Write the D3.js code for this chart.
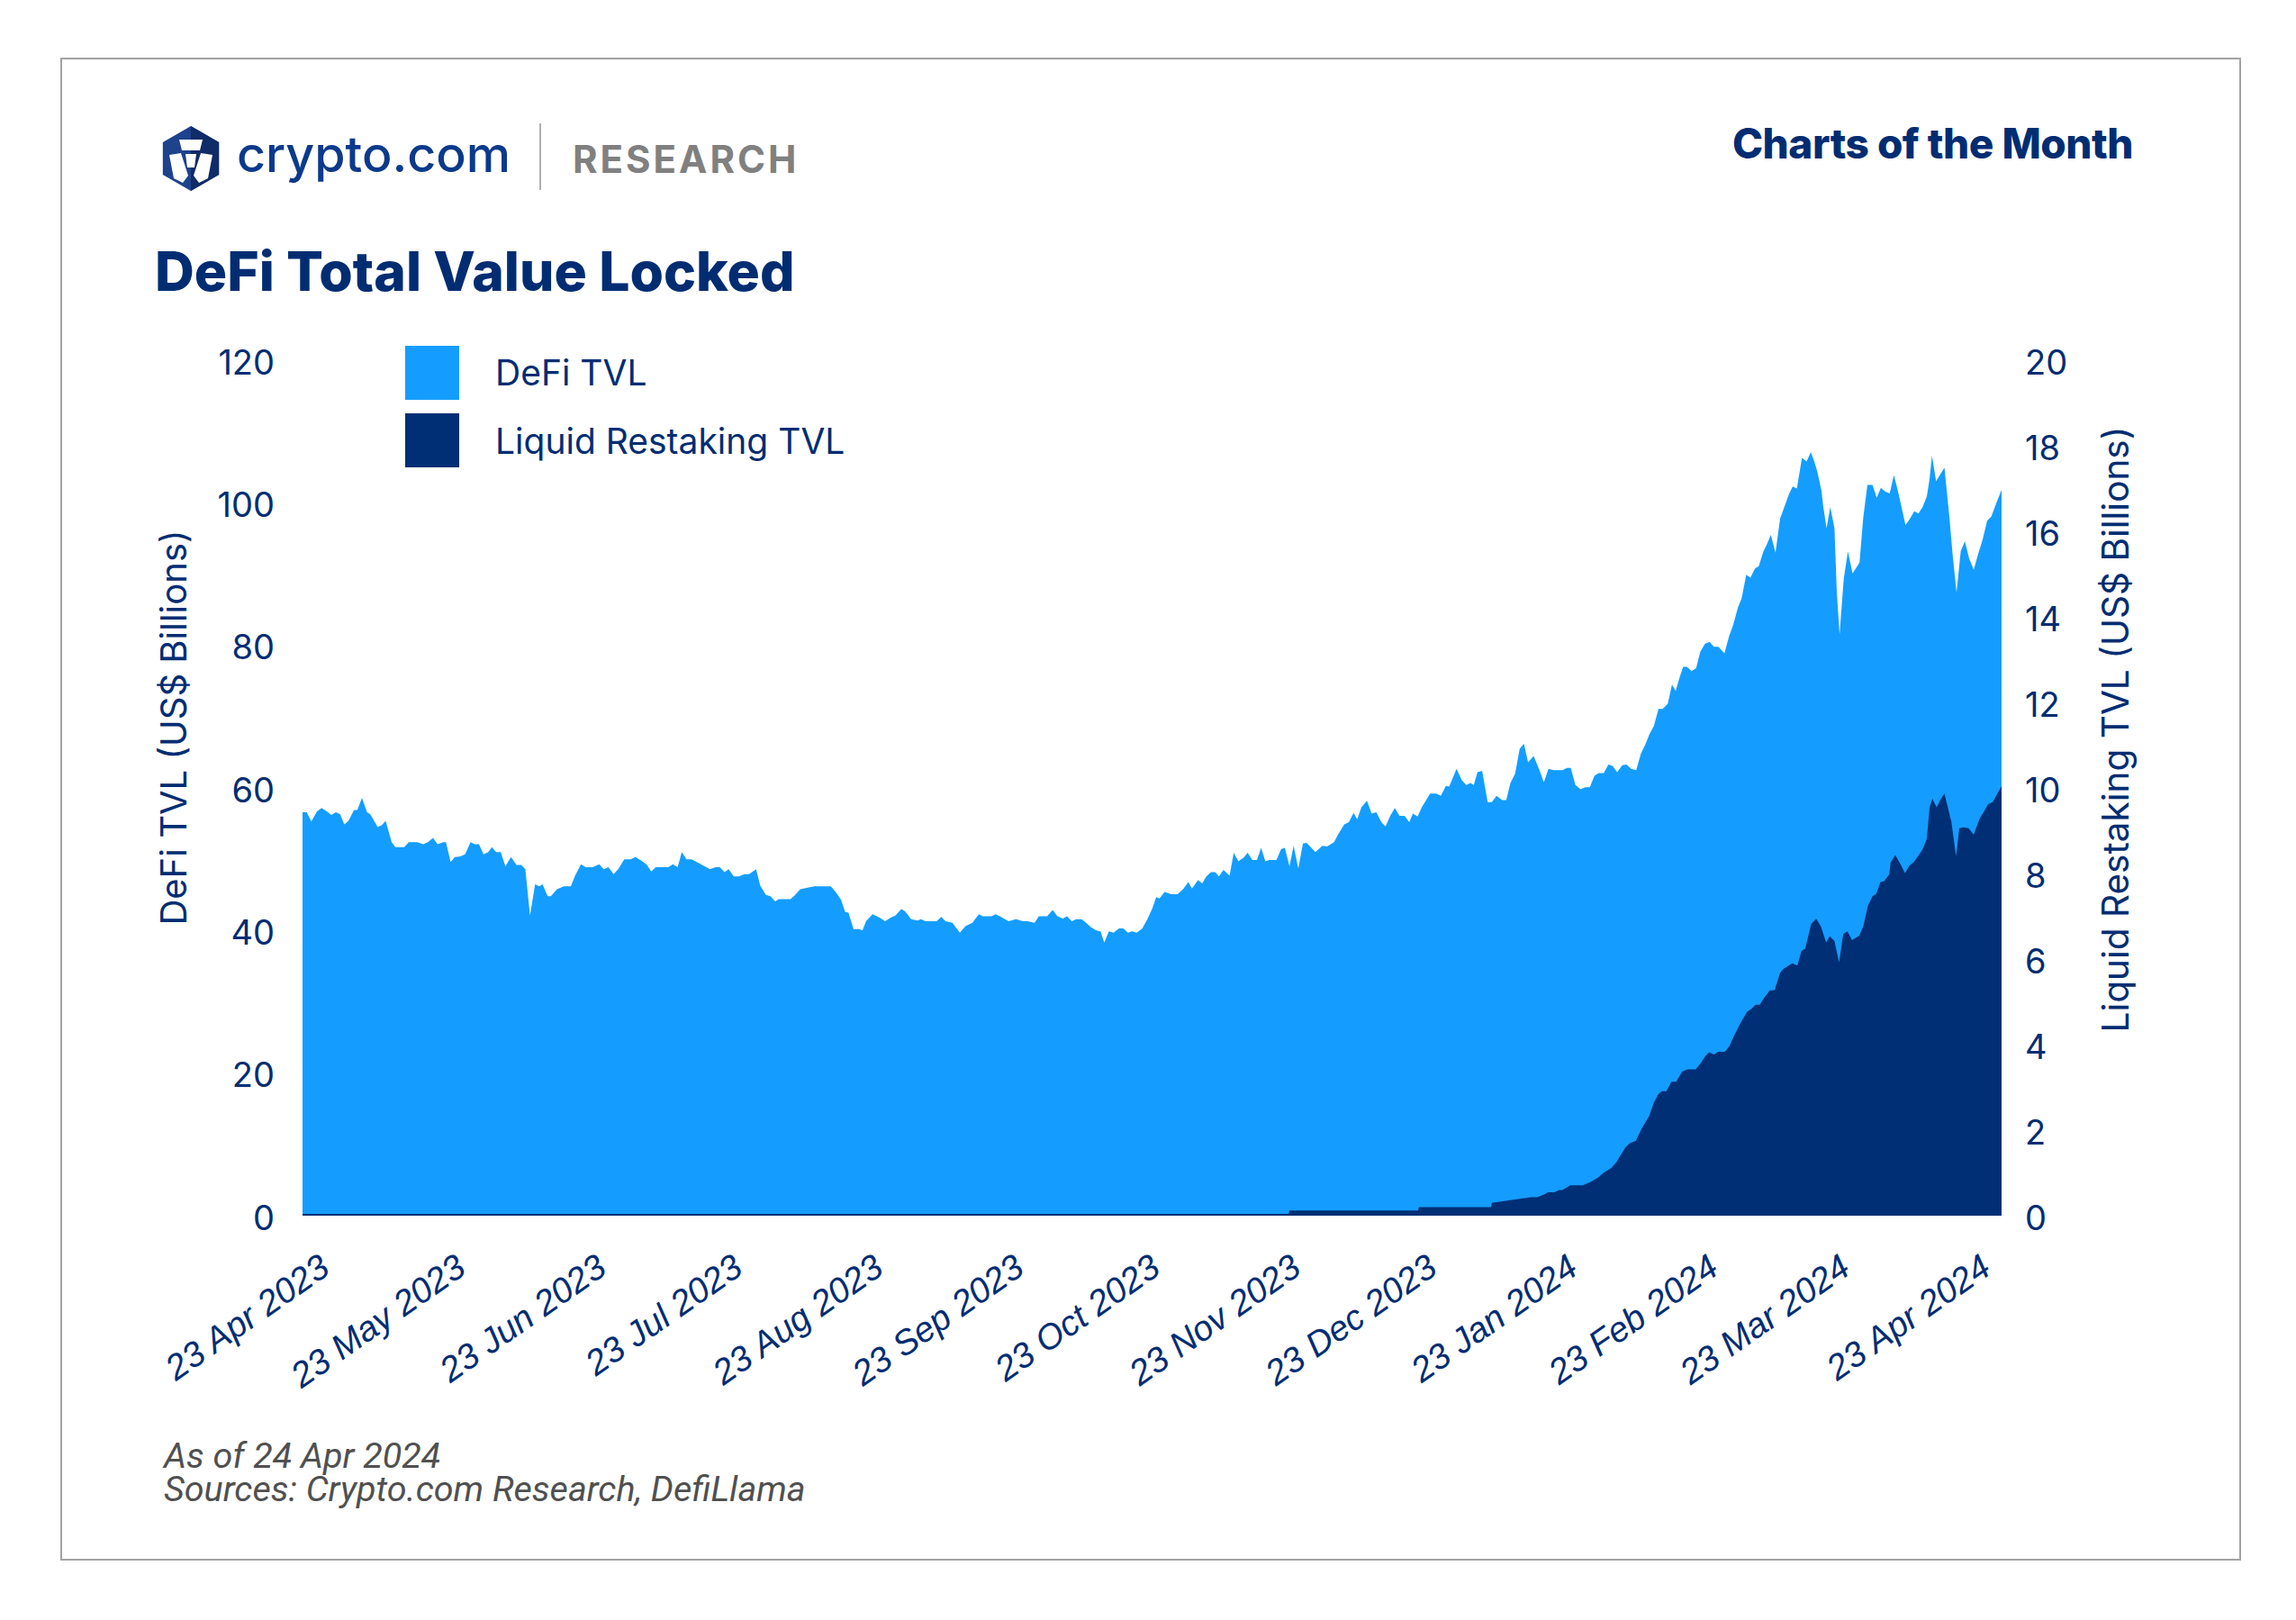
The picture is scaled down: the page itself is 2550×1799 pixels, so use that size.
<!DOCTYPE html>
<html>
<head>
<meta charset="utf-8">
<script src="https://cdnjs.cloudflare.com/ajax/libs/d3/7.8.5/d3.min.js"></script>
<style>
  html, body { margin: 0; padding: 0; background: #fff; }
  svg { display: block; }
</style>
</head>
<body>
<svg id="chart"></svg>
<script>
// days are counted from 23 Apr 2023
const startDate = Date.UTC(2023, 3, 23);
const dayMs = 864e5;

const tvlDays = [0.0, 0.9, 1.9, 3.1, 4.1, 5.3, 6.2, 7.2, 8.1, 9.0, 9.9, 11.1, 11.8, 12.8, 13.9, 14.6, 16.2, 17.1, 17.9, 19.2,
  20.0, 21.9, 22.9, 24.7, 26.0, 27.0, 28.1, 29.1, 30.3, 30.9, 31.9, 32.8, 34.0, 35.0, 36.2, 37.1, 38.0, 39.0, 40.0, 40.8,
  41.7, 42.7, 43.7, 44.9, 46.1, 47.1, 48.0, 49.0, 50.1, 51.0, 51.7, 52.8, 53.5, 54.8, 56.3, 57.8, 58.7, 60.0, 61.0, 62.5,
  63.9, 64.9, 65.9, 67.0, 68.0, 69.3, 70.7, 71.7, 73.0, 74.2, 75.1, 76.1, 78.8, 79.8, 80.8, 81.7, 82.7, 83.8, 85.3, 86.6,
  87.8, 89.0, 89.9, 90.9, 91.8, 92.9, 94.0, 95.2, 96.2, 97.7, 98.6, 99.8, 100.8, 101.8, 102.6, 105.1, 106.0, 107.2, 108.8, 110.3,
  113.8, 115.0, 116.0, 116.9, 117.6, 118.7, 119.9, 120.6, 121.4, 122.8, 124.3, 125.5, 126.7, 127.7, 129.0, 129.8, 131.1, 132.5, 133.2, 134.2,
  136.6, 137.6, 138.5, 140.0, 141.6, 142.8, 144.3, 145.7, 146.5, 148.4, 149.3, 150.2, 152.1, 153.7, 155.2, 156.2, 157.7, 158.6, 160.4, 161.6,
  162.6, 163.8, 164.7, 165.7, 166.7, 167.8, 168.8, 169.8, 171.0, 171.9, 172.7, 173.7, 174.7, 175.9, 176.8, 177.8, 178.7, 179.7, 180.9, 182.0,
  183.0, 183.9, 184.6, 185.7, 187.1, 188.5, 189.8, 190.8, 191.6, 192.9, 193.8, 194.7, 195.7, 196.6, 197.4, 198.4, 199.7, 200.6, 201.6, 202.7,
  203.6, 204.6, 205.6, 206.5, 207.4, 208.3, 209.8, 210.8, 211.6, 212.6, 213.5, 214.5, 215.5, 216.3, 218.2, 219.7, 220.7, 222.2, 223.1, 224.4,
  225.4, 226.4, 227.2, 228.1, 229.3, 230.3, 231.3, 232.4, 233.3, 234.3, 235.3, 236.3, 237.4, 238.4, 239.2, 240.2, 241.1, 242.9, 244.2, 245.2,
  246.3, 247.0, 248.6, 249.7, 250.7, 251.6, 252.3, 253.1, 254.1, 255.3, 256.2, 257.2, 258.4, 259.3, 260.2, 261.2, 262.2, 263.1, 264.0, 265.2,
  266.4, 267.4, 268.4, 269.5, 271.4, 272.4, 273.2, 274.2, 275.3, 276.3, 277.3, 278.3, 279.2, 280.3, 281.3, 282.2, 283.2, 284.3, 285.2, 286.2,
  287.3, 288.3, 289.2, 290.2, 291.1, 292.1, 293.0, 294.1, 295.0, 295.8, 296.6, 297.4, 298.2, 299.2, 300.2, 301.1, 302.1, 303.1, 304.0, 305.0,
  306.3, 307.3, 308.2, 309.2, 310.0, 311.0, 311.9, 312.9, 313.7, 314.7, 315.4, 316.3, 317.3, 318.3, 319.2, 320.2, 321.0, 321.9, 323.0, 324.0,
  324.9, 325.6, 326.3, 327.2, 327.6, 328.3, 329.1, 330.0, 330.5, 331.1, 332.0, 332.9, 333.9, 334.7, 335.4, 336.2, 337.1, 338.2, 339.1, 340.0,
  340.9, 341.9, 342.8, 343.8, 345.3, 346.2, 347.2, 348.1, 349.0, 349.9, 350.5, 351.0, 351.9, 352.8, 353.7, 354.8, 355.4, 356.3, 357.2, 358.1,
  359.0, 360.0, 361.0, 361.9, 362.9, 363.8, 364.9, 366.0];

const tvlValues = [56.6, 56.6, 55.3, 56.7, 57.2, 56.7, 56.2, 56.6, 56.3, 54.9, 55.4, 56.9, 56.9, 58.6, 56.6, 56.3, 54.5, 54.8, 55.4, 52.4,
  51.7, 51.7, 52.4, 52.4, 52.1, 52.4, 53.0, 52.1, 52.4, 52.4, 49.6, 50.3, 50.4, 50.7, 52.4, 52.1, 52.1, 50.7, 51.0, 51.7,
  51.0, 51.0, 49.0, 50.3, 49.2, 49.2, 48.6, 42.1, 46.5, 46.2, 46.5, 44.8, 44.8, 45.8, 46.2, 46.2, 47.7, 49.3, 48.9, 48.9,
  49.3, 48.6, 48.9, 47.9, 48.6, 50.0, 50.0, 50.3, 49.8, 49.2, 48.3, 48.9, 48.9, 49.3, 48.9, 51.0, 50.0, 50.0, 49.5, 49.0,
  48.6, 48.9, 48.9, 48.2, 48.6, 47.6, 47.6, 47.9, 47.9, 48.6, 46.3, 45.0, 44.8, 44.1, 44.4, 44.4, 44.9, 45.8, 46.0, 46.2,
  46.2, 45.3, 44.3, 42.6, 42.5, 40.2, 40.2, 40.0, 41.3, 42.3, 41.8, 41.3, 41.8, 42.1, 43.0, 42.7, 41.6, 41.4, 41.6, 41.3,
  41.3, 41.9, 41.3, 41.1, 39.7, 40.6, 41.1, 42.3, 42.0, 42.0, 42.3, 42.0, 41.3, 41.6, 41.3, 41.3, 41.1, 42.0, 42.0, 42.9,
  42.0, 41.7, 42.0, 41.3, 41.6, 41.6, 41.1, 40.5, 40.0, 39.9, 38.3, 39.9, 39.7, 40.3, 40.3, 39.7, 39.9, 39.7, 40.3, 41.6,
  43.0, 44.7, 44.5, 45.4, 45.1, 45.1, 45.9, 46.8, 45.9, 47.1, 46.6, 47.6, 48.2, 48.2, 47.6, 48.5, 47.7, 50.9, 49.7, 50.2,
  50.9, 49.9, 49.9, 51.6, 49.7, 49.9, 49.9, 51.4, 51.6, 49.0, 51.9, 48.7, 52.2, 52.3, 51.0, 51.9, 51.8, 52.4, 53.5, 54.9,
  55.2, 56.5, 55.6, 57.3, 58.2, 56.4, 56.6, 55.2, 54.6, 56.1, 57.2, 56.1, 56.1, 55.2, 56.4, 56.0, 57.3, 59.2, 59.2, 58.9,
  60.3, 60.2, 62.7, 61.1, 60.4, 60.7, 60.4, 62.2, 62.4, 58.0, 58.0, 58.9, 58.3, 58.3, 60.7, 62.0, 65.5, 66.2, 63.6, 64.5,
  62.6, 60.8, 62.7, 62.5, 62.5, 62.8, 62.8, 60.4, 59.8, 60.1, 60.1, 61.7, 62.1, 62.1, 63.3, 63.1, 62.2, 63.2, 63.3, 62.7,
  62.5, 64.8, 66.0, 67.6, 68.7, 71.1, 71.1, 71.8, 74.5, 73.6, 75.4, 77.0, 77.0, 76.4, 76.8, 79.1, 80.2, 80.5, 79.8, 79.8,
  78.9, 81.3, 82.9, 85.3, 86.6, 89.9, 89.5, 90.8, 91.1, 93.2, 94.1, 95.5, 93.0, 97.8, 99.4, 101.2, 102.3, 102.0, 106.3, 105.8,
  107.1, 105.9, 104.4, 101.7, 99.4, 96.4, 99.4, 96.4, 87.6, 81.5, 89.3, 93.2, 90.1, 90.9, 91.6, 97.9, 102.5, 102.5, 100.7, 102.1,
  101.6, 101.3, 103.9, 101.3, 96.9, 97.7, 98.8, 98.5, 99.4, 100.9, 103.4, 106.6, 103.0, 104.0, 104.9, 97.7, 93.1, 87.4, 93.2, 94.6,
  92.2, 90.6, 92.9, 94.8, 97.5, 98.1, 100.0, 101.8];

const restakeDays = [0, 212.4, 212.6, 240.3, 240.5, 256.0, 256.2, 264.6, 266.0, 267.3, 268.3, 269.7, 270.7, 271.4, 273.1, 275.8, 277.5, 279.2, 280.2, 281.9,
  283.0, 285.0, 286.0, 287.2, 288.4, 290.1, 291.1, 292.1, 292.8, 293.8, 294.9, 295.9, 297.2, 298.3, 300.1, 301.3, 302.1, 303.0, 304.0, 305.0,
  306.4, 307.4, 308.4, 309.8, 311.2, 312.2, 313.0, 313.9, 314.9, 316.1, 317.1, 318.3, 319.0, 320.9, 322.0, 322.9, 323.7, 325.0, 326.1, 327.1,
  328.2, 329.0, 330.0, 331.0, 331.9, 332.8, 333.8, 335.3, 336.2, 337.2, 338.2, 339.0, 339.9, 340.7, 341.8, 342.1, 343.1, 344.1, 345.2, 346.2,
  347.0, 348.0, 349.0, 349.9, 350.5, 351.1, 352.0, 353.0, 353.7, 355.2, 356.2, 356.9, 357.7, 358.9, 360.0, 361.3, 362.2, 363.1, 364.1, 365.1,
  366.0];

const restakeValues = [0.04, 0.04, 0.12, 0.12, 0.2, 0.2, 0.3, 0.43, 0.43, 0.49, 0.55, 0.55, 0.60, 0.60, 0.71, 0.71, 0.79, 0.90, 1.00, 1.11,
  1.25, 1.60, 1.70, 1.75, 2.02, 2.33, 2.65, 2.85, 2.91, 2.91, 3.13, 3.13, 3.37, 3.42, 3.42, 3.58, 3.72, 3.82, 3.77, 3.83,
  3.83, 3.97, 4.21, 4.51, 4.77, 4.84, 4.93, 4.93, 5.10, 5.27, 5.27, 5.68, 5.77, 5.90, 5.85, 6.19, 6.24, 6.82, 6.94, 6.76,
  6.39, 6.53, 6.42, 5.92, 6.59, 6.65, 6.44, 6.54, 6.76, 7.24, 7.47, 7.52, 7.80, 7.82, 7.98, 8.26, 8.43, 8.24, 8.01, 8.19,
  8.26, 8.40, 8.57, 8.81, 9.55, 9.75, 9.55, 9.76, 9.87, 9.20, 8.40, 9.06, 9.08, 9.06, 8.91, 9.29, 9.45, 9.62, 9.67, 9.87,
  10.04];

const leftTicks = [0, 20, 40, 60, 80, 100, 120];
const rightTicks = [0, 2, 4, 6, 8, 10, 12, 14, 16, 18, 20];
const tickDates = ['2023-04-23', '2023-05-23', '2023-06-23', '2023-07-23', '2023-08-23', '2023-09-23', '2023-10-23',
  '2023-11-23', '2023-12-23', '2024-01-23', '2024-02-23', '2024-03-23', '2024-04-23'];
const seriesNames = ['DeFi TVL', 'Liquid Restaking TVL'];
const footerLines = ['As of 24 Apr 2024', 'Sources: Crypto.com Research, DefiLlama'];

const navy = '#002d72';
const lightBlue = '#149dff';
const darkBlue = '#002f75';

const W = 2550, H = 1799;
const plot = { left: 336, right: 2223, top: 400, bottom: 1350 };

const svg = d3.select('#chart').attr('width', W).attr('height', H);
svg.append('rect').attr('width', W).attr('height', H).attr('fill', '#fff');

// outer frame
svg.append('rect')
  .attr('x', 68).attr('y', 65).attr('width', 2420).attr('height', 1667)
  .attr('fill', 'none').attr('stroke', '#a3a3a3').attr('stroke-width', 2);

const toDate = d => new Date(startDate + d * dayMs);
const tvl = tvlDays.map((d, i) => ({ date: toDate(d), value: tvlValues[i] }));
const restake = restakeDays.map((d, i) => ({ date: toDate(d), value: restakeValues[i] }));

const x = d3.scaleUtc()
  .domain([toDate(0), toDate(366)])
  .range([plot.left, plot.right]);

const yLeft = d3.scaleLinear().domain([0, 120]).range([plot.bottom, plot.top]);
const yRight = d3.scaleLinear().domain([0, 20]).range([plot.bottom, plot.top]);

svg.append('path')
  .datum(tvl)
  .attr('fill', lightBlue)
  .attr('d', d3.area().x(d => x(d.date)).y0(yLeft(0)).y1(d => yLeft(d.value)));

svg.append('path')
  .datum(restake)
  .attr('fill', darkBlue)
  .attr('d', d3.area().x(d => x(d.date)).y0(yRight(0)).y1(d => yRight(d.value)));

// y axes
const leftAxis = svg.append('g')
  .attr('transform', `translate(${plot.left},0)`)
  .call(d3.axisLeft(yLeft).tickValues(leftTicks).tickSize(0).tickPadding(31));

const rightAxis = svg.append('g')
  .attr('transform', `translate(${plot.right},0)`)
  .call(d3.axisRight(yRight).tickValues(rightTicks).tickSize(0).tickPadding(26));

[leftAxis, rightAxis].forEach(g => {
  g.select('.domain').remove();
  g.selectAll('text')
    .attr('fill', navy)
    .attr('dy', '0.4em')
    .style('font-family', 'Inter, sans-serif')
    .style('font-size', '38px');
});

// x axis, labels slanted
const parseDay = d3.utcParse('%Y-%m-%d');
const labelX = x.copy().range([368, 2213]);
const xAxis = svg.append('g')
  .attr('transform', 'translate(0,1413)')
  .call(d3.axisBottom(labelX)
    .tickValues(tickDates.map(parseDay))
    .tickFormat(d3.utcFormat('%-d %b %Y'))
    .tickSize(0).tickPadding(0));
xAxis.select('.domain').remove();
xAxis.selectAll('text')
  .attr('y', 0).attr('dy', 0)
  .attr('text-anchor', 'end')
  .attr('transform', 'rotate(-35)')
  .attr('fill', navy)
  .style('font-family', '"Liberation Sans", Arial, sans-serif')
  .style('font-style', 'italic')
  .style('font-size', '39px');

// axis titles
svg.append('text')
  .attr('transform', 'translate(207,808) rotate(-90)')
  .attr('text-anchor', 'middle')
  .attr('fill', navy)
  .style('font-family', 'Inter, sans-serif')
  .style('font-size', '40px')
  .text('DeFi TVL (US$ Billions)');

svg.append('text')
  .attr('transform', 'translate(2364,810) rotate(-90)')
  .attr('text-anchor', 'middle')
  .attr('fill', navy)
  .style('font-family', 'Inter, sans-serif')
  .style('font-size', '40.5px')
  .text('Liquid Restaking TVL (US$ Billions)');

// legend
const legend = svg.append('g').attr('transform', 'translate(450,384)');
legend.selectAll('rect')
  .data(seriesNames)
  .enter()
  .append('rect')
  .attr('x', 0)
  .attr('y', (d, i) => i * 75)
  .attr('width', 60).attr('height', 60)
  .attr('fill', (d, i) => i === 0 ? lightBlue : darkBlue);
legend.selectAll('text')
  .data(seriesNames)
  .enter()
  .append('text')
  .attr('x', 100)
  .attr('y', (d, i) => 44 + i * 76)
  .attr('fill', navy)
  .style('font-family', 'Inter, sans-serif')
  .style('font-size', '39px')
  .text(d => d);

// header
svg.append('text')
  .attr('x', 172).attr('y', 323)
  .attr('fill', navy)
  .style('font-family', 'Inter, sans-serif')
  .style('font-weight', 800)
  .style('font-size', '60.6px')
  .text('DeFi Total Value Locked');

svg.append('text')
  .attr('x', 2369).attr('y', 176)
  .attr('text-anchor', 'end')
  .attr('fill', navy)
  .style('font-family', 'Inter, sans-serif')
  .style('font-weight', 800)
  .style('font-size', '46px')
  .style('letter-spacing', '-0.5px')
  .text('Charts of the Month');

// logo
const logo = svg.append('g');
const cx = 212, cy = 176, R = 36;
const hex = d3.range(6).map(i => {
  const a = (-90 + i * 60) * Math.PI / 180;
  return [cx + R * Math.cos(a), cy + R * Math.sin(a)];
});
logo.append('path').attr('d', d3.line()(hex) + 'Z').attr('fill', '#1e428c');
logo.append('path').attr('d', d3.line()([hex[0], hex[1], hex[2], hex[3]]) + 'Z').attr('fill', '#0f2b68');
const emblem = [
  [[199, 155], [225, 155], [222, 167], [202, 167]],
  [[206, 171], [218, 171], [216, 186], [208, 186]],
  [[188, 172], [201, 170], [209, 195], [203, 203], [193, 198]],
  [[236, 172], [223, 170], [215, 195], [221, 203], [231, 198]]
];
emblem.forEach(p => logo.append('path').attr('d', d3.line()(p) + 'Z').attr('fill', '#fff'));

svg.append('text')
  .attr('x', 263).attr('y', 191)
  .attr('fill', '#0b3a8c')
  .style('font-family', 'Inter, sans-serif')
  .style('font-weight', 500)
  .style('font-size', '55.5px')
  .text('crypto.com');

svg.append('line')
  .attr('x1', 600).attr('x2', 600).attr('y1', 137).attr('y2', 211)
  .attr('stroke', '#b0b0b0').attr('stroke-width', 2);

svg.append('text')
  .attr('x', 636).attr('y', 192)
  .attr('fill', '#808080')
  .style('font-family', 'Inter, sans-serif')
  .style('font-weight', 700)
  .style('font-size', '42px')
  .style('letter-spacing', '3px')
  .text('RESEARCH');

// footer
svg.selectAll('.footer')
  .data(footerLines)
  .enter()
  .append('text')
  .attr('class', 'footer')
  .attr('x', 182)
  .attr('y', (d, i) => 1630 + i * 37)
  .attr('fill', '#505050')
  .style('font-family', 'Roboto, sans-serif')
  .style('font-style', 'italic')
  .style('font-size', '39.5px')
  .text(d => d);
</script>
</body>
</html>
